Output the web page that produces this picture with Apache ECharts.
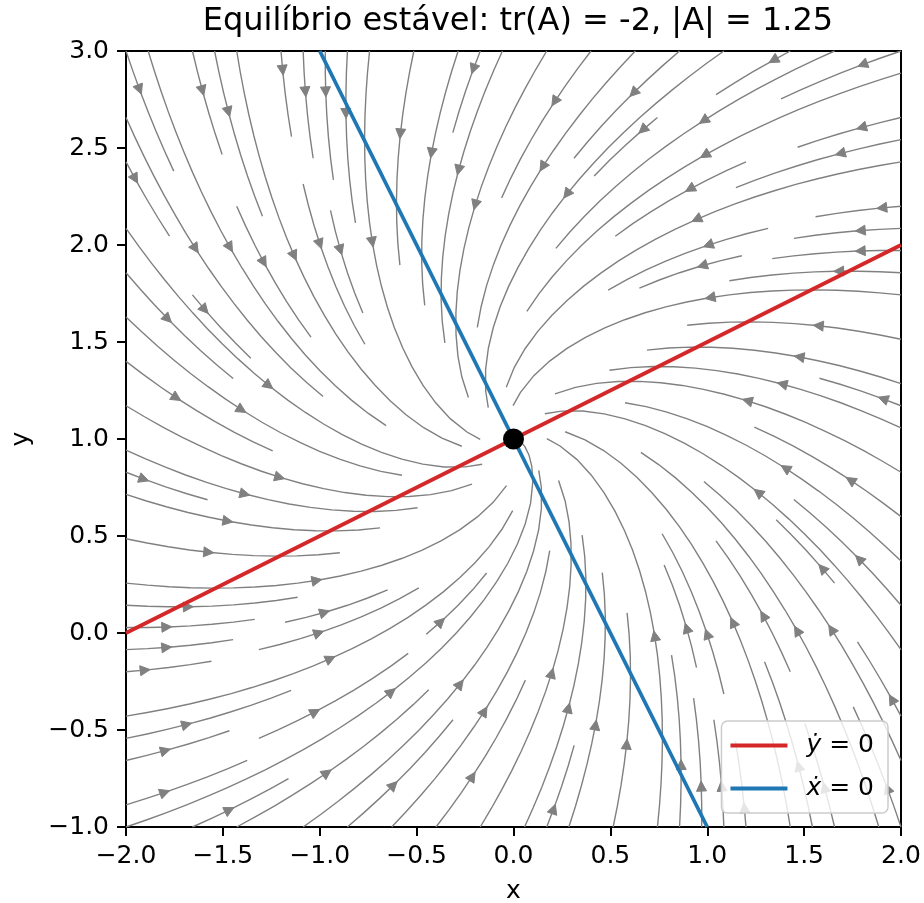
<!DOCTYPE html>
<html>
<head>
<meta charset="utf-8">
<script src="https://cdn.jsdelivr.net/npm/echarts@6/dist/echarts.min.js"></script>
<style>
  html, body { margin: 0; padding: 0; background: #ffffff; }
  #chart { width: 924px; height: 903px; }
</style>
</head>
<body>
<div id="chart"></div>
<script>
// Linear system: d/dt [x, y] = A · ([x, y] − equilibrium)
const systemMatrix = [[-1.0, -0.5], [0.5, -1.0]];
const equilibrium = [0.0, 1.0];
const xDomain = [-2.0, 2.0];
const yDomain = [-1.0, 3.0];
const xTicks = [-2.0, -1.5, -1.0, -0.5, 0.0, 0.5, 1.0, 1.5, 2.0];
const yTicks = [-1.0, -0.5, 0.0, 0.5, 1.0, 1.5, 2.0, 2.5, 3.0];
const yDotNullcline = [[-2.0, 0.0], [2.0, 2.0]];   // ẏ = 0
const xDotNullcline = [[-1.0, 3.0], [1.0, -1.0]];  // ẋ = 0
const nullclineNames = ['ẏ = 0', 'ẋ = 0'];
const streamDensity = 1.2;
const titleText = 'Equilíbrio estável: tr(A) = -2, |A| = 1.25';

const FONT = 'DejaVu Sans';

// ---- streamline tracing (occupancy mask, RK12 adaptive steps, in axes units) ----
function traceStreamlines() {
  const n = Math.trunc(30 * streamDensity);
  const mask = new Uint8Array(n * n);
  const w = xDomain[1] - xDomain[0];
  const h = yDomain[1] - yDomain[0];
  const OUT = 'out', TERM = 'term', INVALID = 'invalid';
  const maxLength = 4.0, minLength = 0.1;
  let currentXY = null;
  let visited = [];

  const pyRound = v => {
    const f = Math.floor(v), d = v - f;
    if (d > 0.5) return f + 1;
    if (d < 0.5) return f;
    return f % 2 === 0 ? f : f + 1;
  };
  const toMask = (X, Y) => [pyRound(X * (n - 1)), pyRound(Y * (n - 1))];
  const within = (X, Y) => X >= 0 && X <= 1 && Y >= 0 && Y <= 1;

  function markCell(X, Y) {
    const [xm, ym] = toMask(X, Y);
    if (!currentXY || currentXY[0] !== xm || currentXY[1] !== ym) {
      const k = ym * n + xm;
      if (mask[k] === 0) {
        visited.push(k);
        mask[k] = 1;
        currentXY = [xm, ym];
      } else {
        throw INVALID;
      }
    }
  }

  // unit direction of the flow, in normalised axes units
  function direction(X, Y) {
    if (!within(X, Y)) throw OUT;
    const dx = xDomain[0] + w * X - equilibrium[0];
    const dy = yDomain[0] + h * Y - equilibrium[1];
    const U = (systemMatrix[0][0] * dx + systemMatrix[0][1] * dy) / w;
    const V = (systemMatrix[1][0] * dx + systemMatrix[1][1] * dy) / h;
    const s = Math.hypot(U, V);
    if (s === 0) throw TERM;
    return [U / s, V / s];
  }

  function eulerToEdge(pts, f) {
    const [xi, yi] = pts[pts.length - 1];
    const [cx, cy] = f(xi, yi);
    const dsx = cx === 0 ? Infinity : (cx < 0 ? xi / -cx : (1 - xi) / cx);
    const dsy = cy === 0 ? Infinity : (cy < 0 ? yi / -cy : (1 - yi) / cy);
    const ds = Math.min(dsx, dsy);
    pts.push([xi + cx * ds, yi + cy * ds]);
    return ds;
  }

  function rk12(x0, y0, sign) {
    const maxError = 0.003;
    const maxDs = Math.min(1 / n, 0.1);
    const f = (X, Y) => { const r = direction(X, Y); return [sign * r[0], sign * r[1]]; };
    let ds = maxDs, sTotal = 0, xi = x0, yi = y0;
    const pts = [];
    while (true) {
      let k1, k2;
      try {
        if (within(xi, yi)) pts.push([xi, yi]); else throw OUT;
        k1 = f(xi, yi);
        k2 = f(xi + ds * k1[0], yi + ds * k1[1]);
      } catch (e) {
        if (e === OUT) {
          if (pts.length) {
            try { sTotal += eulerToEdge(pts, f); } catch (e2) { if (e2 !== TERM) throw e2; }
          }
          break;
        }
        if (e === TERM) break;
        throw e;
      }
      const dx1 = ds * k1[0], dy1 = ds * k1[1];
      const dx2 = ds * 0.5 * (k1[0] + k2[0]), dy2 = ds * 0.5 * (k1[1] + k2[1]);
      const err = Math.hypot(dx2 - dx1, dy2 - dy1);
      if (err < maxError) {
        xi += dx2; yi += dy2;
        try {
          if (!within(xi, yi)) throw INVALID;
          markCell(xi, yi);
        } catch (e) {
          if (e === INVALID) break;
          throw e;
        }
        if (sTotal + ds > maxLength) break;
        sTotal += ds;
      }
      ds = err === 0 ? maxDs : Math.min(maxDs, 0.85 * ds * Math.sqrt(maxError / err));
    }
    return [sTotal, pts];
  }

  function integrate(X0, Y0) {
    visited = [];
    try { markCell(X0, Y0); } catch (e) { if (e === INVALID) return null; throw e; }
    let sTotal = 0;
    const back = rk12(X0, Y0, -1);
    sTotal += back[0];
    let path = back[1].slice().reverse();
    currentXY = toMask(X0, Y0);
    const fwd = rk12(X0, Y0, 1);
    sTotal += fwd[0];
    path = path.concat(fwd[1].slice(1));
    if (sTotal > minLength) return path;
    for (const k of visited) mask[k] = 0;
    return null;
  }

  // seed points: start at a corner of the mask and spiral inwards
  function* spiralSeeds(nx, ny) {
    let xfirst = 0, yfirst = 1, xlast = nx - 1, ylast = ny - 1;
    let x = 0, y = 0, dir = 'right';
    for (let i = 0; i < nx * ny; i++) {
      yield [x, y];
      if (dir === 'right') {
        x += 1;
        if (x >= xlast) { xlast -= 1; dir = 'up'; }
      } else if (dir === 'up') {
        y += 1;
        if (y >= ylast) { ylast -= 1; dir = 'left'; }
      } else if (dir === 'left') {
        x -= 1;
        if (x <= xfirst) { xfirst += 1; dir = 'down'; }
      } else {
        y -= 1;
        if (y <= yfirst) { yfirst += 1; dir = 'right'; }
      }
    }
  }

  const lines = [];
  for (const [xm, ym] of spiralSeeds(n, n)) {
    if (mask[ym * n + xm] !== 0) continue;
    const t = integrate(xm / (n - 1), ym / (n - 1));
    if (t) lines.push(t.map(([X, Y]) => [xDomain[0] + w * X, yDomain[0] + h * Y]));
  }
  return lines;
}

const streamlines = traceStreamlines();

// one arrow half-way along each streamline
const arrows = [];
for (const pts of streamlines) {
  if (pts.length < 2) continue;
  const cum = [];
  let acc = 0;
  for (let i = 1; i < pts.length; i++) {
    acc += Math.hypot(pts[i][0] - pts[i - 1][0], pts[i][1] - pts[i - 1][1]);
    cum.push(acc);
  }
  if (acc <= 0) continue;
  let k = 0;
  while (k < cum.length && cum[k] < acc / 2) k++;
  const tail = pts[k];
  const nxt = pts[Math.min(k + 1, pts.length - 1)];
  const head = [(tail[0] + nxt[0]) / 2, (tail[1] + nxt[1]) / 2];
  arrows.push([tail[0], tail[1], head[0], head[1]]);
}

const fmtTick = v => v.toFixed(1).replace('-', '\u2212');

const chart = echarts.init(document.getElementById('chart'), null, { renderer: 'canvas' });

chart.setOption({
  animation: false,
  backgroundColor: '#ffffff',
  textStyle: { fontFamily: FONT },
  title: {
    text: titleText,
    left: 513,
    top: 1,
    textAlign: 'center',
    textStyle: { fontFamily: FONT, fontSize: 32, fontWeight: 'normal', color: '#000' }
  },
  grid: {
    left: 126, right: 23, top: 51, bottom: 76,
    containLabel: false,
    outerBoundsMode: 'none',
    show: true, borderColor: '#000', borderWidth: 2, backgroundColor: 'transparent'
  },
  legend: {
    data: nullclineNames,
    orient: 'vertical',
    right: 36,
    bottom: 90,
    icon: 'rect',
    itemWidth: 57,
    itemHeight: 4,
    itemGap: 18,
    padding: [12, 14, 12, 9],
    backgroundColor: 'rgba(255,255,255,0.8)',
    borderColor: '#cccccc',
    borderWidth: 1.5,
    borderRadius: 6,
    selectedMode: false,
    formatter: name => '{m|' + name.charAt(0) + '}{n|' + name.slice(1) + '}',
    textStyle: {
      fontFamily: FONT, fontSize: 25, color: '#000', padding: [0, 0, 0, 14],
      rich: {
        m: { fontFamily: FONT, fontStyle: 'italic', fontSize: 25, color: '#000', lineHeight: 25 },
        n: { fontFamily: FONT, fontSize: 25, color: '#000', lineHeight: 25 }
      }
    }
  },
  xAxis: {
    type: 'value',
    min: xTicks[0], max: xTicks[xTicks.length - 1], interval: 0.5,
    name: 'x', nameLocation: 'middle', nameGap: 52,
    nameTextStyle: { fontFamily: FONT, fontSize: 25, color: '#000' },
    axisLine: { show: true, onZero: false, lineStyle: { color: '#000', width: 2 } },
    axisTick: { show: true, inside: false, length: 9, lineStyle: { color: '#000', width: 2 } },
    axisLabel: { margin: 17, fontFamily: FONT, fontSize: 25, color: '#000', formatter: fmtTick },
    splitLine: { show: false }
  },
  yAxis: {
    type: 'value',
    min: yTicks[0], max: yTicks[yTicks.length - 1], interval: 0.5,
    name: 'y', nameLocation: 'middle', nameGap: 92,
    nameTextStyle: { fontFamily: FONT, fontSize: 25, color: '#000' },
    axisLine: { show: true, onZero: false, lineStyle: { color: '#000', width: 2 } },
    axisTick: { show: true, inside: false, length: 9, lineStyle: { color: '#000', width: 2 } },
    axisLabel: { margin: 17, fontFamily: FONT, fontSize: 25, color: '#000', formatter: fmtTick },
    splitLine: { show: false }
  },
  series: [
    {
      name: 'streamlines',
      type: 'lines',
      coordinateSystem: 'cartesian2d',
      polyline: true,
      silent: true,
      clip: true,
      z: 1,
      lineStyle: { color: '#808080', width: 1.4, opacity: 1 },
      data: streamlines.map(p => ({ coords: p }))
    },
    {
      name: 'arrows',
      type: 'custom',
      silent: true,
      clip: true,
      z: 2,
      data: arrows,
      renderItem: (params, api) => {
        const p0 = api.coord([api.value(0), api.value(1)]);
        const p1 = api.coord([api.value(2), api.value(3)]);
        let dx = p1[0] - p0[0], dy = p1[1] - p0[1];
        const len = Math.hypot(dx, dy) || 1;
        dx /= len; dy /= len;
        // arrow head tip sits a little behind the head point, 10 px long, 10 px wide
        const back = 8, L = 10, Wd = 5;
        const tx = p1[0] - dx * back, ty = p1[1] - dy * back;
        const bx = tx - dx * L, by = ty - dy * L;
        return {
          type: 'polygon',
          shape: { points: [[tx, ty], [bx - dy * Wd, by + dx * Wd], [bx + dy * Wd, by - dx * Wd]] },
          style: { fill: '#808080', stroke: '#808080', lineWidth: 1 }
        };
      }
    },
    {
      name: nullclineNames[0],
      type: 'line',
      data: yDotNullcline,
      showSymbol: false,
      silent: true,
      z: 3,
      color: '#d62728',
      lineStyle: { color: '#d62728', width: 3.75 }
    },
    {
      name: nullclineNames[1],
      type: 'line',
      data: xDotNullcline,
      showSymbol: false,
      silent: true,
      z: 3,
      color: '#1f77b4',
      lineStyle: { color: '#1f77b4', width: 3.75 }
    },
    {
      name: 'equilibrium',
      type: 'scatter',
      data: [equilibrium],
      symbol: 'circle',
      symbolSize: 21,
      silent: true,
      z: 5,
      itemStyle: { color: '#000', opacity: 1 }
    }
  ]
});
</script>
</body>
</html>
